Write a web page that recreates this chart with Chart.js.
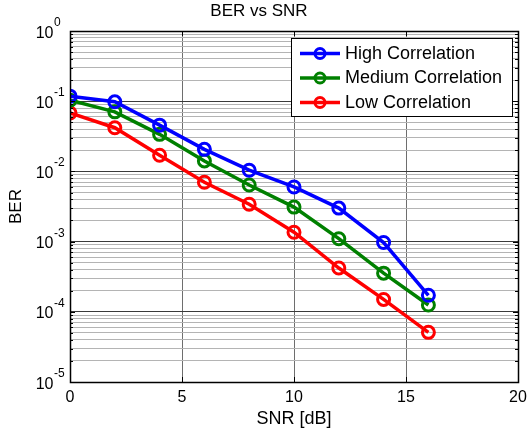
<!DOCTYPE html>
<html>
<head>
<meta charset="utf-8">
<script src="https://cdn.jsdelivr.net/npm/chart.js@4/dist/chart.umd.min.js"></script>
<style>
  body { margin: 0; background: #fff; }
  canvas { display: block; }
</style>
</head>
<body>
<canvas id="chart" width="530" height="432"></canvas>
<script>
const snr = [0, 2, 4, 6, 8, 10, 12, 14, 16];
const berHigh = [0.118, 0.098, 0.0456, 0.0206, 0.0104, 0.0060, 0.0030, 0.00097, 0.000172];
const berMedium = [0.103, 0.0705, 0.0337, 0.0141, 0.0064, 0.0031, 0.0011, 0.000355, 0.000125];
const berLow = [0.068, 0.0419, 0.017, 0.0070, 0.0034, 0.00136, 0.00042, 0.00015, 0.000051];

const seriesLabels = ['High Correlation', 'Medium Correlation', 'Low Correlation'];
const seriesColors = ['#0000ff', '#008000', '#ff0000'];

const xTicks = [0, 5, 10, 15, 20];
const yExponents = [-5, -4, -3, -2, -1, 0];   // y tick labels are 10^e

const FONT = "'Liberation Sans', Arial, sans-serif";

Chart.defaults.color = '#000';
Chart.defaults.font.family = FONT;

function points(ys) {
  return snr.map((x, i) => ({ x, y: ys[i] }));
}

function makeDataset(i, ys) {
  return {
    label: seriesLabels[i],
    data: points(ys),
    borderColor: seriesColors[i],
    borderWidth: 3.5,
    pointStyle: 'circle',
    pointRadius: 6,
    pointBorderWidth: 3,
    pointBorderColor: seriesColors[i],
    pointBackgroundColor: 'rgba(0,0,0,0)',
    tension: 0
  };
}

// y ticks: decades plus 2..9 inside each decade
function logTicks() {
  const ticks = [];
  yExponents.forEach((e, k) => {
    ticks.push({ value: Math.pow(10, e), major: true });
    if (k < yExponents.length - 1) {
      for (let m = 2; m <= 9; m++) ticks.push({ value: m * Math.pow(10, e), major: false });
    }
  });
  return ticks;
}

// box, inner tick marks, superscript y labels, legend
const matlabAxes = {
  id: 'matlabAxes',
  afterDraw(chart) {
    const { ctx, chartArea: a, scales: { x, y } } = chart;
    ctx.save();

    // inner tick marks
    ctx.strokeStyle = '#000';
    ctx.lineWidth = 1;
    ctx.beginPath();
    y.ticks.forEach(t => {
      const py = Math.round(y.getPixelForValue(t.value)) + 0.5;
      const len = t.major ? 5 : 3;
      ctx.moveTo(a.left, py); ctx.lineTo(a.left + len, py);
      ctx.moveTo(a.right, py); ctx.lineTo(a.right - len, py);
    });
    xTicks.forEach(v => {
      const px = Math.round(x.getPixelForValue(v)) + 0.5;
      ctx.moveTo(px, a.bottom); ctx.lineTo(px, a.bottom - 5);
      ctx.moveTo(px, a.top); ctx.lineTo(px, a.top + 5);
    });
    ctx.stroke();

    // box
    ctx.lineWidth = 1.5;
    ctx.strokeRect(Math.round(a.left) + 0.5, Math.round(a.top) + 0.5,
      Math.round(a.right - a.left), Math.round(a.bottom - a.top));

    // y labels 10^e
    ctx.fillStyle = '#000';
    yExponents.forEach(e => {
      const py = y.getPixelForValue(Math.pow(10, e));
      ctx.font = '16px ' + FONT;
      ctx.textAlign = 'right';
      ctx.textBaseline = 'alphabetic';
      ctx.fillText('10', a.left - 16.5, py + 6.5);
      ctx.font = '12px ' + FONT;
      ctx.textAlign = 'left';
      ctx.fillText(String(e), a.left - 16, py - 5);
    });

    // legend
    const lx = 291, ly = 38, lw = 221, lh = 78;
    ctx.fillStyle = '#fff';
    ctx.fillRect(lx, ly, lw, lh);
    ctx.strokeStyle = '#000';
    ctx.lineWidth = 1;
    ctx.strokeRect(lx + 0.5, ly + 0.5, lw, lh);
    chart.data.datasets.forEach((ds, i) => {
      const ry = 53.5 + i * 24.5;
      ctx.strokeStyle = ds.borderColor;
      ctx.lineWidth = 3.5;
      ctx.beginPath();
      ctx.moveTo(300, ry); ctx.lineTo(340, ry);
      ctx.stroke();
      ctx.lineWidth = 3;
      ctx.beginPath();
      ctx.arc(320, ry, 5, 0, Math.PI * 2);
      ctx.stroke();
      ctx.fillStyle = '#000';
      ctx.font = '18px ' + FONT;
      ctx.textAlign = 'left';
      ctx.textBaseline = 'middle';
      ctx.fillText(ds.label, 345, ry + 0.5);
    });

    ctx.restore();
  }
};

new Chart(document.getElementById('chart'), {
  type: 'line',
  data: {
    datasets: [
      makeDataset(0, berHigh),
      makeDataset(1, berMedium),
      makeDataset(2, berLow)
    ]
  },
  options: {
    responsive: false,
    animation: false,
    layout: { padding: { top: 1, right: 12, bottom: 0, left: 0 } },
    plugins: {
      legend: { display: false },
      tooltip: { enabled: false },
      title: {
        display: true,
        text: 'BER vs SNR',
        font: { size: 17, weight: 'normal' },
        padding: { top: 0, bottom: 9.6 }
      }
    },
    scales: {
      x: {
        type: 'linear',
        min: 0,
        max: 20,
        afterBuildTicks: s => { s.ticks = xTicks.map(v => ({ value: v })); },
        afterFit: s => { s.height = 50; s.paddingLeft = 0; s.paddingRight = 0; },
        ticks: { font: { size: 16 }, padding: 6, maxRotation: 0 },
        grid: {
          color: '#6e6e6e',
          lineWidth: 1,
          drawTicks: false
        },
        border: { display: false },
        title: {
          display: true,
          text: 'SNR [dB]',
          font: { size: 18 },
          padding: { top: 0, bottom: 2 }
        }
      },
      y: {
        type: 'logarithmic',
        min: 1e-5,
        max: 1,
        afterBuildTicks: s => { s.ticks = logTicks(); },
        afterFit: s => { s.width = 70; s.paddingTop = 0; s.paddingBottom = 0; },
        ticks: { display: false },
        grid: {
          color: c => (c.tick && c.tick.major) ? '#3a3a3a' : '#b4b4b4',
          lineWidth: 1,
          drawTicks: false
        },
        border: { display: false },
        title: {
          display: true,
          text: 'BER',
          font: { size: 17 },
          padding: { top: 6.5, bottom: 0 }
        }
      }
    }
  },
  plugins: [matlabAxes]
});
</script>
</body>
</html>
